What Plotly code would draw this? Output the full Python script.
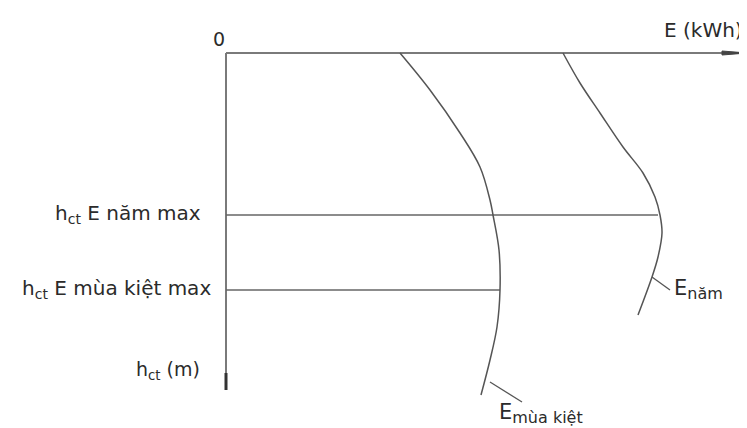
import plotly.graph_objects as go

# ---- data (E = energy, h = depth below the origin) ----
h_mua_kiet = [0, 37, 80, 114, 147, 162, 197, 237, 274, 307, 342]
E_mua_kiet = [174, 204, 234, 254, 264, 267, 273, 274, 271, 264, 255]

h_nam = [0, 30, 60, 94, 120, 144, 162, 180, 204, 224, 262]
E_nam = [337, 354, 374, 397, 417, 429, 434, 436, 432, 426, 412]

h_levels = [162, 237]
E_levels = [432, 274]
level_labels = ["h<sub>ct</sub> E năm max", "h<sub>ct</sub> E mùa kiệt max"]
level_label_x = [-23, -13]

y_axis_label = "h<sub>ct</sub> (m)"
x_axis_label = "E (kWh)"
origin_label = "0"

curve_labels = ["E<sub><span style='font-size:16px'>năm</span></sub>",
                "E<sub><span style='font-size:16px'>mùa kiệt</span></sub>"]
# leader lines: (E values, h values)
leader_nam = ([426, 444], [224, 237])
leader_mk = ([264, 296], [329, 349])

E_AXIS_END = 521
H_AXIS_END = 337
ARROW_LEN = 25
ARROW_HALF = 2

LINE = "#555555"
AXIS = "#7a7a7a"
TXT = "#2b2b2b"
FONT = "DejaVu Sans"

fig = go.Figure()

# axes
fig.add_trace(go.Scatter(x=[0, E_AXIS_END], y=[0, 0], mode="lines",
                         line=dict(color=AXIS, width=2), hoverinfo="skip"))
fig.add_trace(go.Scatter(x=[0, 0], y=[0, H_AXIS_END], mode="lines",
                         line=dict(color=AXIS, width=2), hoverinfo="skip"))
fig.add_trace(go.Scatter(x=[0, 0], y=[H_AXIS_END - 17, H_AXIS_END], mode="lines",
                         line=dict(color="#333333", width=3), hoverinfo="skip"))
fig.add_trace(go.Scatter(
    x=[E_AXIS_END - ARROW_LEN, E_AXIS_END, E_AXIS_END - ARROW_LEN, E_AXIS_END - ARROW_LEN],
    y=[-ARROW_HALF, 0, ARROW_HALF, -ARROW_HALF],
    mode="lines", fill="toself", fillcolor="#444444",
    line=dict(color="#444444", width=1), hoverinfo="skip"))

# level lines
for h, e in zip(h_levels, E_levels):
    fig.add_trace(go.Scatter(x=[0, e], y=[h, h], mode="lines",
                             line=dict(color="#666666", width=1.6), hoverinfo="skip"))

# curves
fig.add_trace(go.Scatter(x=E_mua_kiet, y=h_mua_kiet, mode="lines",
                         line=dict(color=LINE, width=1.5, shape="spline", smoothing=1.0)))
fig.add_trace(go.Scatter(x=E_nam, y=h_nam, mode="lines",
                         line=dict(color=LINE, width=1.5, shape="spline", smoothing=1.0)))

# leaders
for lx, ly in (leader_nam, leader_mk):
    fig.add_trace(go.Scatter(x=lx, y=ly, mode="lines",
                             line=dict(color=LINE, width=1.3), hoverinfo="skip"))

ann = []
for lab, h, x in zip(level_labels, h_levels, level_label_x):
    ann.append(dict(x=x, y=h - 1, text=lab, xanchor="right", yanchor="middle",
                    font=dict(size=20, family=FONT, color=TXT)))
ann.append(dict(x=-24, y=317, text=y_axis_label, xanchor="right", yanchor="middle",
                font=dict(size=19, family=FONT, color=TXT)))
ann.append(dict(x=519, y=-23, text=x_axis_label, xanchor="right", yanchor="middle",
                font=dict(size=20, family=FONT, color=TXT)))
ann.append(dict(x=-7, y=-14, text=origin_label, xanchor="center", yanchor="middle",
                font=dict(size=19, family=FONT, color=TXT)))
ann.append(dict(x=446, y=236, text=curve_labels[0], xanchor="left", yanchor="middle",
                font=dict(size=21, family=FONT, color=TXT)))
ann.append(dict(x=271, y=375, text=curve_labels[1], xanchor="left", yanchor="bottom",
                yshift=-1, font=dict(size=21, family=FONT, color=TXT)))
for a in ann:
    a.update(xref="x", yref="y", showarrow=False)

# the page adds an 8px body margin, so the figure is 8px smaller than the window
fig.update_layout(
    width=739, height=420,
    margin=dict(l=0, r=0, t=0, b=0),
    paper_bgcolor="white", plot_bgcolor="white",
    showlegend=False,
    xaxis=dict(visible=False, range=[-218, 521], fixedrange=True),
    yaxis=dict(visible=False, range=[375, -45], fixedrange=True),
    annotations=ann,
)

fig.write_html("out.html")
